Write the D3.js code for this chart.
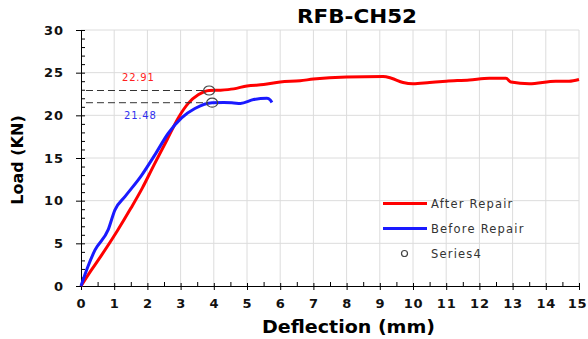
<!DOCTYPE html>
<html lang="en">
<head>
    <meta charset="UTF-8">
    <title>RFB-CH52</title>
    <script src="https://d3js.org/d3.v7.min.js"></script>
    <style>
        body { margin: 0; background: #fff; }
        text { font-family: "DejaVu Sans", sans-serif; }
    </style>
</head>
<body>
<script>
    // After Repair curve (deflection mm, load kN)
    const afterX = [0, 0.3, 0.6, 1.1, 1.5, 1.85, 2.2, 2.6, 2.93, 3.23, 3.53, 3.86, 4.2, 4.6, 5.0, 5.5, 6, 6.6, 7, 8, 9.1, 9.35, 9.7, 10, 10.5, 11, 11.7, 12.3, 12.8, 12.95, 13.5, 14.3, 14.7, 15]
    const afterY = [0, 1.8, 3.5, 6.5, 9.1, 11.5, 14.2, 17.2, 19.7, 21.4, 22.4, 22.91, 22.95, 23.1, 23.45, 23.6, 23.9, 24.05, 24.25, 24.5, 24.55, 24.35, 23.85, 23.7, 23.85, 24.0, 24.15, 24.35, 24.35, 23.9, 23.7, 24.0, 24.0, 24.2]

    // Before Repair curve
    const beforeX = [0, 0.2, 0.42, 0.82, 1.02, 1.33, 1.83, 2.23, 2.63, 3.03, 3.43, 3.95, 4.3, 4.6, 4.8, 5.2, 5.6, 5.7, 5.75]
    const beforeY = [0, 2.2, 4.2, 6.6, 8.9, 10.5, 13.0, 15.4, 17.9, 19.7, 20.8, 21.48, 21.5, 21.45, 21.4, 21.85, 22.0, 21.8, 21.5]

    // Series4: marked peak points
    const peakX = [3.86, 3.95]
    const peakY = [22.91, 21.48]
    const peakLabels = ["22.91", "21.48"]

    const xTicks = d3.range(0, 16)
    const yTicks = [0, 5, 10, 15, 20, 25, 30]

    const width = 588
    const height = 339
    const margin = {left: 81, right: 9, top: 30, bottom: 53}

    const svg = d3.select("body")
        .append("svg")
        .attr("width", width)
        .attr("height", height)

    const xScale = d3.scaleLinear()
        .domain([0, 15])
        .range([margin.left, width - margin.right])

    const yScale = d3.scaleLinear()
        .domain([0, 30])
        .range([height - margin.bottom, margin.top])

    // grid
    svg.append("g")
        .selectAll("line")
        .data(xTicks.slice(1))
        .enter()
        .append("line")
        .attr("x1", d => xScale(d))
        .attr("x2", d => xScale(d))
        .attr("y1", yScale(0))
        .attr("y2", yScale(30))
        .attr("stroke", "#dcdcdc")
        .attr("stroke-width", 1)

    svg.append("g")
        .selectAll("line")
        .data(yTicks.slice(1))
        .enter()
        .append("line")
        .attr("x1", xScale(0))
        .attr("x2", xScale(15))
        .attr("y1", d => yScale(d))
        .attr("y2", d => yScale(d))
        .attr("stroke", "#dcdcdc")
        .attr("stroke-width", 1)

    // minor ticks
    svg.append("g")
        .attr("transform", `translate(0, ${yScale(0)})`)
        .call(d3.axisBottom(xScale).tickValues(d3.range(0.5, 15, 1)).tickSize(-4).tickFormat(""))
        .call(g => g.select(".domain").remove())

    svg.append("g")
        .attr("transform", `translate(${xScale(0)}, 0)`)
        .call(d3.axisLeft(yScale).tickValues(d3.range(0, 31).filter(d => d % 5 !== 0)).tickSize(-4).tickFormat(""))
        .call(g => g.select(".domain").remove())

    // major axes
    const xAxis = svg.append("g")
        .attr("transform", `translate(0, ${yScale(0)})`)
        .call(d3.axisBottom(xScale).tickValues(xTicks).tickSize(4).tickPadding(9).tickFormat(d3.format("d")))
    xAxis.selectAll(".tick line").attr("y1", -3)
    xAxis.selectAll("text")
        .attr("font-size", 13)
        .attr("font-weight", "bold")
        .attr("letter-spacing", 0.8)
        .attr("fill", "#111")
        .attr("dx", d => d === 15 ? -2 : 0)

    const yAxis = svg.append("g")
        .attr("transform", `translate(${xScale(0)}, 0)`)
        .call(d3.axisLeft(yScale).tickValues(yTicks).tickSize(5).tickPadding(12))
    yAxis.selectAll(".tick line").attr("x1", 4).attr("x2", -5)
    yAxis.selectAll("text")
        .attr("font-size", 13)
        .attr("font-weight", "bold")
        .attr("letter-spacing", 1)
        .attr("fill", "#111")

    // curves
    const line = d3.line()
        .x(d => xScale(d[0]))
        .y(d => yScale(d[1]))
        .curve(d3.curveMonotoneX)

    const afterData = afterX.map((x, i) => [x, afterY[i]])
    const beforeData = beforeX.map((x, i) => [x, beforeY[i]])

    svg.append("path")
        .datum(afterData)
        .attr("d", line)
        .attr("fill", "none")
        .attr("stroke", "#ff0000")
        .attr("stroke-width", 3)

    svg.append("path")
        .datum(beforeData)
        .attr("d", line)
        .attr("fill", "none")
        .attr("stroke", "#1a1aff")
        .attr("stroke-width", 3)

    // dashed guide lines
    svg.selectAll(".guide")
        .data(peakX)
        .enter()
        .append("line")
        .attr("class", "guide")
        .attr("x1", xScale(0.15))
        .attr("x2", (d) => xScale(d) - 4)
        .attr("y1", (d, i) => yScale(peakY[i]))
        .attr("y2", (d, i) => yScale(peakY[i]))
        .attr("stroke", "#333")
        .attr("stroke-width", 1)
        .attr("stroke-dasharray", "7,4")

    svg.selectAll(".peak")
        .data(peakX)
        .enter()
        .append("ellipse")
        .attr("class", "peak")
        .attr("cx", d => xScale(d))
        .attr("cy", (d, i) => yScale(peakY[i]))
        .attr("rx", 5.5)
        .attr("ry", 4.5)
        .attr("fill", "none")
        .attr("stroke", "#444")
        .attr("stroke-width", 1.2)

    const labelColors = ["#ff2020", "#3030ee"]
    const labelY = [81, 118.5]
    svg.selectAll(".peak-label")
        .data(peakLabels)
        .enter()
        .append("text")
        .attr("class", "peak-label")
        .attr("x", (d, i) => i === 0 ? 122 : 124)
        .attr("y", (d, i) => labelY[i])
        .attr("font-size", 10)
        .attr("letter-spacing", 0.8)
        .attr("fill", (d, i) => labelColors[i])
        .text(d => d)

    // title and axis labels
    svg.append("text")
        .attr("x", 297)
        .attr("y", 23)
        .attr("font-size", 19.5)
        .attr("font-weight", "bold")
        .attr("textLength", 120)
        .attr("lengthAdjust", "spacingAndGlyphs")
        .text("RFB-CH52")

    svg.append("text")
        .attr("x", 262)
        .attr("y", 333)
        .attr("font-size", 18)
        .attr("font-weight", "bold")
        .attr("textLength", 173)
        .attr("lengthAdjust", "spacingAndGlyphs")
        .text("Deflection (mm)")

    svg.append("text")
        .attr("transform", "translate(23, 160) rotate(-90)")
        .attr("text-anchor", "middle")
        .attr("font-size", 16)
        .attr("font-weight", "bold")
        .text("Load (KN)")

    // legend
    const legend = svg.append("g")
    const legendNames = ["After Repair", "Before Repair", "Series4"]
    const legendColors = ["#ff0000", "#1a1aff", null]
    legendNames.forEach((name, i) => {
        const y = 203.5 + i * 25
        if (legendColors[i]) {
            legend.append("line")
                .attr("x1", 383).attr("x2", 427)
                .attr("y1", y).attr("y2", y)
                .attr("stroke", legendColors[i])
                .attr("stroke-width", 3)
        } else {
            legend.append("circle")
                .attr("cx", 404.5).attr("cy", y)
                .attr("r", 3)
                .attr("fill", "none")
                .attr("stroke", "#444")
                .attr("stroke-width", 1.2)
        }
        legend.append("text")
            .attr("x", 431)
            .attr("y", y + 4)
            .attr("font-size", 11.5)
            .attr("letter-spacing", 1.2)
            .attr("fill", "#333")
            .text(name)
    })
</script>
</body>
</html>
